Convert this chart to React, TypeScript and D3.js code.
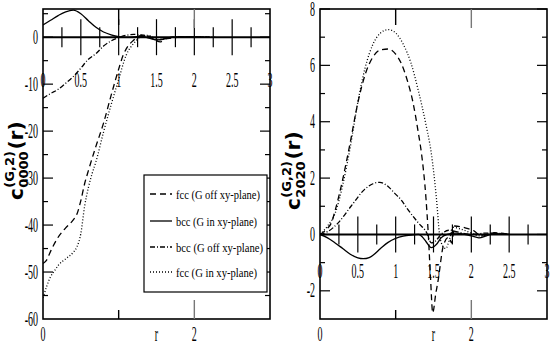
import React, { useEffect, useRef } from 'react';
import * as d3 from 'd3';

type Pt = [number, number];

// c0000 (left panel), pairs of [r, value]
const fccOff0000: Pt[] = [[0, -48.2], [0.05, -47.4], [0.1, -45.6], [0.2, -42.6], [0.3, -40.6], [0.4, -38.9], [0.45, -37.6], [0.5, -34.8], [0.55, -31.2], [0.6, -28.4], [0.7, -23.2], [0.8, -18.3], [0.9, -12.4], [1.0, -6.8], [1.06, -3.8], [1.1, -2.5], [1.2, -0.6], [1.25, 0.1], [1.3, 0.3], [1.4, 0.2], [1.5, -0.8], [1.55, -1], [1.6, -0.5], [1.7, -0.2], [1.8, 0], [2.0, 0.05], [2.2, 0]];
const bccIn0000: Pt[] = [[0, 2.6], [0.1, 3.6], [0.2, 4.6], [0.3, 5.4], [0.4, 5.75], [0.5, 5.0], [0.6, 3.5], [0.7, 2.1], [0.8, 1.1], [0.9, 0.5], [1.0, 0.1], [1.1, -0.05], [1.2, 0.05], [1.3, 0.2], [1.4, -0.2], [1.5, -0.6], [1.6, -0.35], [1.7, -0.05], [1.8, 0.05], [2.0, 0.05], [2.2, 0]];
const bccOff0000: Pt[] = [[0, -13], [0.1, -12], [0.2, -11.1], [0.3, -9.8], [0.4, -8.4], [0.5, -6.6], [0.6, -4.7], [0.7, -3.5], [0.8, -1.9], [0.9, -0.8], [1.0, -0.1], [1.1, 0.4], [1.2, 0.6], [1.3, 0.5], [1.4, 0.1], [1.5, -0.6], [1.6, -0.4], [1.7, 0], [1.9, 0.05], [2.2, 0]];
const fccIn0000: Pt[] = [[0, -55.5], [0.05, -53], [0.1, -51], [0.15, -49.8], [0.2, -48.6], [0.3, -47.2], [0.4, -45.8], [0.45, -44.6], [0.5, -41.8], [0.55, -36], [0.6, -32], [0.65, -29], [0.7, -26.5], [0.8, -20.2], [0.9, -14.4], [1.0, -9], [1.1, -3.8], [1.2, -1.3], [1.28, 0], [1.35, 0.4], [1.42, 0.3], [1.5, -0.5], [1.6, -0.3], [1.8, 0.1], [2.0, 0], [2.3, 0]];

// c2020 (right panel)
const fccOff2020: Pt[] = [[0, 0], [0.1, 0.22], [0.15, 0.41], [0.2, 0.85], [0.3, 1.95], [0.4, 3.27], [0.5, 4.67], [0.6, 5.7], [0.7, 6.3], [0.8, 6.55], [0.9, 6.58], [1.0, 6.4], [1.07, 6.09], [1.15, 5.5], [1.23, 4.67], [1.3, 3.6], [1.34, 2.9], [1.4, 1.3], [1.43, 0.07], [1.46, -1.5], [1.49, -2.78], [1.53, -2.1], [1.56, -1.65], [1.63, -0.4], [1.7, -0.1], [1.74, -0.3], [1.78, 0.3], [1.91, 0.24], [2.04, 0.12], [2.13, -0.06], [2.31, 0.06], [2.5, 0]];
const bccIn2020: Pt[] = [[0, 0], [0.1, -0.12], [0.2, -0.3], [0.3, -0.5], [0.4, -0.7], [0.5, -0.83], [0.57, -0.86], [0.65, -0.82], [0.7, -0.74], [0.8, -0.5], [0.9, -0.28], [1.0, -0.14], [1.1, -0.06], [1.2, -0.02], [1.3, 0], [1.35, -0.08], [1.4, -0.25], [1.47, -0.47], [1.54, -0.35], [1.6, -0.12], [1.68, 0], [1.8, 0.05], [2.0, -0.05], [2.1, -0.12], [2.2, -0.05], [2.3, 0.03], [2.5, 0]];
const bccOff2020: Pt[] = [[0, 0], [0.1, 0.1], [0.24, 0.41], [0.41, 1.0], [0.59, 1.6], [0.7, 1.8], [0.79, 1.85], [0.9, 1.7], [0.98, 1.48], [1.08, 1.2], [1.16, 0.89], [1.3, 0.41], [1.41, 0.06], [1.47, -0.3], [1.52, -0.25], [1.6, 0], [1.7, 0.15], [1.8, 0.1], [2.0, 0], [2.2, 0.05], [2.5, 0]];
const fccIn2020: Pt[] = [[0, 0], [0.1, 0.3], [0.2, 0.75], [0.3, 1.75], [0.4, 3.1], [0.5, 4.7], [0.6, 5.95], [0.7, 6.75], [0.8, 7.15], [0.9, 7.27], [1.0, 7.15], [1.1, 6.75], [1.2, 6.1], [1.3, 5.1], [1.4, 3.9], [1.47, 2.9], [1.54, 1.24], [1.58, 0], [1.62, -0.4], [1.66, -0.5], [1.72, -0.1], [1.76, 0.25], [1.85, 0.2], [2.0, 0.05], [2.1, -0.05], [2.3, 0.05], [2.5, 0]];

const seriesNames = ['fcc (G off xy-plane)', 'bcc (G in xy-plane)', 'bcc (G off xy-plane)', 'fcc (G in xy-plane)'];
const seriesDash = ['6,4', '', '5,2,1,2', '1,2'];
const legendWidths = [84, 81, 87, 81];

const leftYTicks = [0, -10, -20, -30, -40, -50, -60];
const rightYTicks = [8, 6, 4, 2, 0, -2];
const innerXLabels = ['0', '0.5', '1', '1.5', '2', '2.5', '3'];
const bottomXLabels = ['0', '2'];

const App = () => {
  const svgRef = useRef<SVGSVGElement>(null);

  useEffect(() => {
    const svg = d3.select(svgRef.current);
    svg.selectAll('*').remove();

    // narrow Times-like labels as in the original export
    const label = (g: any, s: string, x: number, y: number, anchor: string) =>
      g.append('text')
        .attr('transform', `translate(${x},${y}) scale(0.5,1)`)
        .attr('text-anchor', anchor)
        .attr('font-family', 'Liberation Serif, serif')
        .attr('font-size', 20)
        .text(s);

    const panels = [
      { id: 'l', left: 43, right: 270, top: 9, bottom: 319, yDomain: [-60, 6], yMajor: 10, yMinor: 5,
        yTicks: leftYTicks, innerOffset: 50, sub: '0000', titleX: 23, titleY: 200,
        series: [fccOff0000, bccIn0000, bccOff0000, fccIn0000] },
      { id: 'r', left: 320, right: 547, top: 9, bottom: 319, yDomain: [-3, 8], yMajor: 2, yMinor: 1,
        yTicks: rightYTicks, innerOffset: 43.5, sub: '2020', titleX: 300, titleY: 210,
        series: [fccOff2020, bccIn2020, bccOff2020, fccIn2020] },
    ];

    panels.forEach(p => {
      const x = d3.scaleLinear().domain([0, 3]).range([p.left, p.right]);
      const y = d3.scaleLinear().domain(p.yDomain).range([p.bottom, p.top]);
      const g = svg.append('g');

      g.append('clipPath').attr('id', 'clip-' + p.id)
        .append('rect').attr('x', p.left).attr('y', p.top)
        .attr('width', p.right - p.left).attr('height', p.bottom - p.top);

      const line = d3.line<Pt>().x(d => x(d[0])).y(d => y(d[1])).curve(d3.curveMonotoneX);
      p.series.forEach((s, i) => {
        g.append('path')
          .attr('clip-path', `url(#clip-${p.id})`)
          .attr('d', line(s))
          .attr('fill', 'none')
          .attr('stroke', '#000')
          .attr('stroke-width', 1.3)
          .attr('stroke-dasharray', seriesDash[i] || null);
      });

      // zero axis with in/out ticks
      const y0 = y(0);
      g.append('line').attr('x1', p.left).attr('x2', p.right).attr('y1', y0).attr('y2', y0)
        .attr('stroke', '#000').attr('stroke-width', 2);
      d3.range(1, 12).forEach(k => {
        const r = k * 0.25;
        const len = k % 2 === 0 ? 18 : 10;
        g.append('line').attr('x1', x(r)).attr('x2', x(r)).attr('y1', y0 - len).attr('y2', y0 + len)
          .attr('stroke', '#000').attr('stroke-width', 1.2);
      });
      innerXLabels.forEach((s, i) => label(g, s, x(i * 0.5), y0 + p.innerOffset, 'middle'));

      // frame
      g.append('rect').attr('x', p.left).attr('y', p.top)
        .attr('width', p.right - p.left).attr('height', p.bottom - p.top)
        .attr('fill', 'none').attr('stroke', '#000').attr('stroke-width', 1.6);

      // y ticks on both sides
      const [lo, hi] = p.yDomain;
      for (let v = Math.ceil(lo / p.yMinor) * p.yMinor; v <= hi; v += p.yMinor) {
        if (v === lo) continue;
        const len = Math.abs(v % p.yMajor) < 1e-9 ? 10 : 5;
        g.append('line').attr('x1', p.left).attr('x2', p.left + len).attr('y1', y(v)).attr('y2', y(v))
          .attr('stroke', '#000').attr('stroke-width', 1.2);
        g.append('line').attr('x1', p.right).attr('x2', p.right - len).attr('y1', y(v)).attr('y2', y(v))
          .attr('stroke', '#000').attr('stroke-width', 1.2);
      }
      p.yTicks.forEach(v => label(g, String(v), p.left - 5, y(v) + 6.5, 'end'));

      // x ticks top and bottom
      [[1, 16, 9, '#000'], [2, 19, 19, '#777']].forEach(([r, lt, lb, c]: any) => {
        g.append('line').attr('x1', x(r)).attr('x2', x(r)).attr('y1', p.top).attr('y2', p.top + lt)
          .attr('stroke', c).attr('stroke-width', 1.4);
        g.append('line').attr('x1', x(r)).attr('x2', x(r)).attr('y1', p.bottom).attr('y2', p.bottom - lb)
          .attr('stroke', c).attr('stroke-width', 1.4);
      });
      bottomXLabels.forEach(s => label(g, s, x(+s), 341, 'middle'));
      label(g, 'r', (p.left + p.right) / 2, 341, 'middle');

      // y title, rotated, with stacked super/subscript
      const t = g.append('g').attr('transform', `translate(${p.titleX},${p.titleY}) rotate(-90)`)
        .attr('font-family', 'DejaVu Sans, Liberation Sans, sans-serif').attr('font-weight', 'bold');
      const c = t.append('text').attr('x', 0).attr('y', 0).attr('font-size', 20).text('c');
      const cw = (c.node() as SVGTextElement).getComputedTextLength();
      const sup = t.append('text').attr('x', cw + 0.5).attr('y', -9).attr('font-size', 13).text('(G,2)');
      const sb = t.append('text').attr('x', cw + 0.5).attr('y', 5).attr('font-size', 13).text(p.sub);
      const sw = Math.max((sup.node() as SVGTextElement).getComputedTextLength(),
        (sb.node() as SVGTextElement).getComputedTextLength());
      t.append('text').attr('x', cw + sw + 2).attr('y', 0).attr('font-size', 20).text('(r)');

      if (p.id === 'l') {
        const lg = g.append('g');
        lg.append('rect').attr('x', 144).attr('y', 175).attr('width', 123).attr('height', 117)
          .attr('fill', '#fff').attr('stroke', '#000').attr('stroke-width', 1.2);
        const rows = [194, 221, 247, 272];
        seriesNames.forEach((name, i) => {
          lg.append('line').attr('x1', 150).attr('x2', 172).attr('y1', rows[i]).attr('y2', rows[i])
            .attr('stroke', '#000').attr('stroke-width', 1.3)
            .attr('stroke-dasharray', seriesDash[i] || null);
          lg.append('text').attr('x', 176).attr('y', rows[i] + 4.5)
            .attr('font-family', 'Liberation Serif, serif').attr('font-size', 13)
            .attr('textLength', legendWidths[i]).attr('lengthAdjust', 'spacingAndGlyphs')
            .text(name);
        });
      }
    });
  }, []);

  return (
    <svg ref={svgRef} width={554} height={346}
      style={{ position: 'absolute', left: 0, top: 0, background: '#fff' }} />
  );
};

export default App;
